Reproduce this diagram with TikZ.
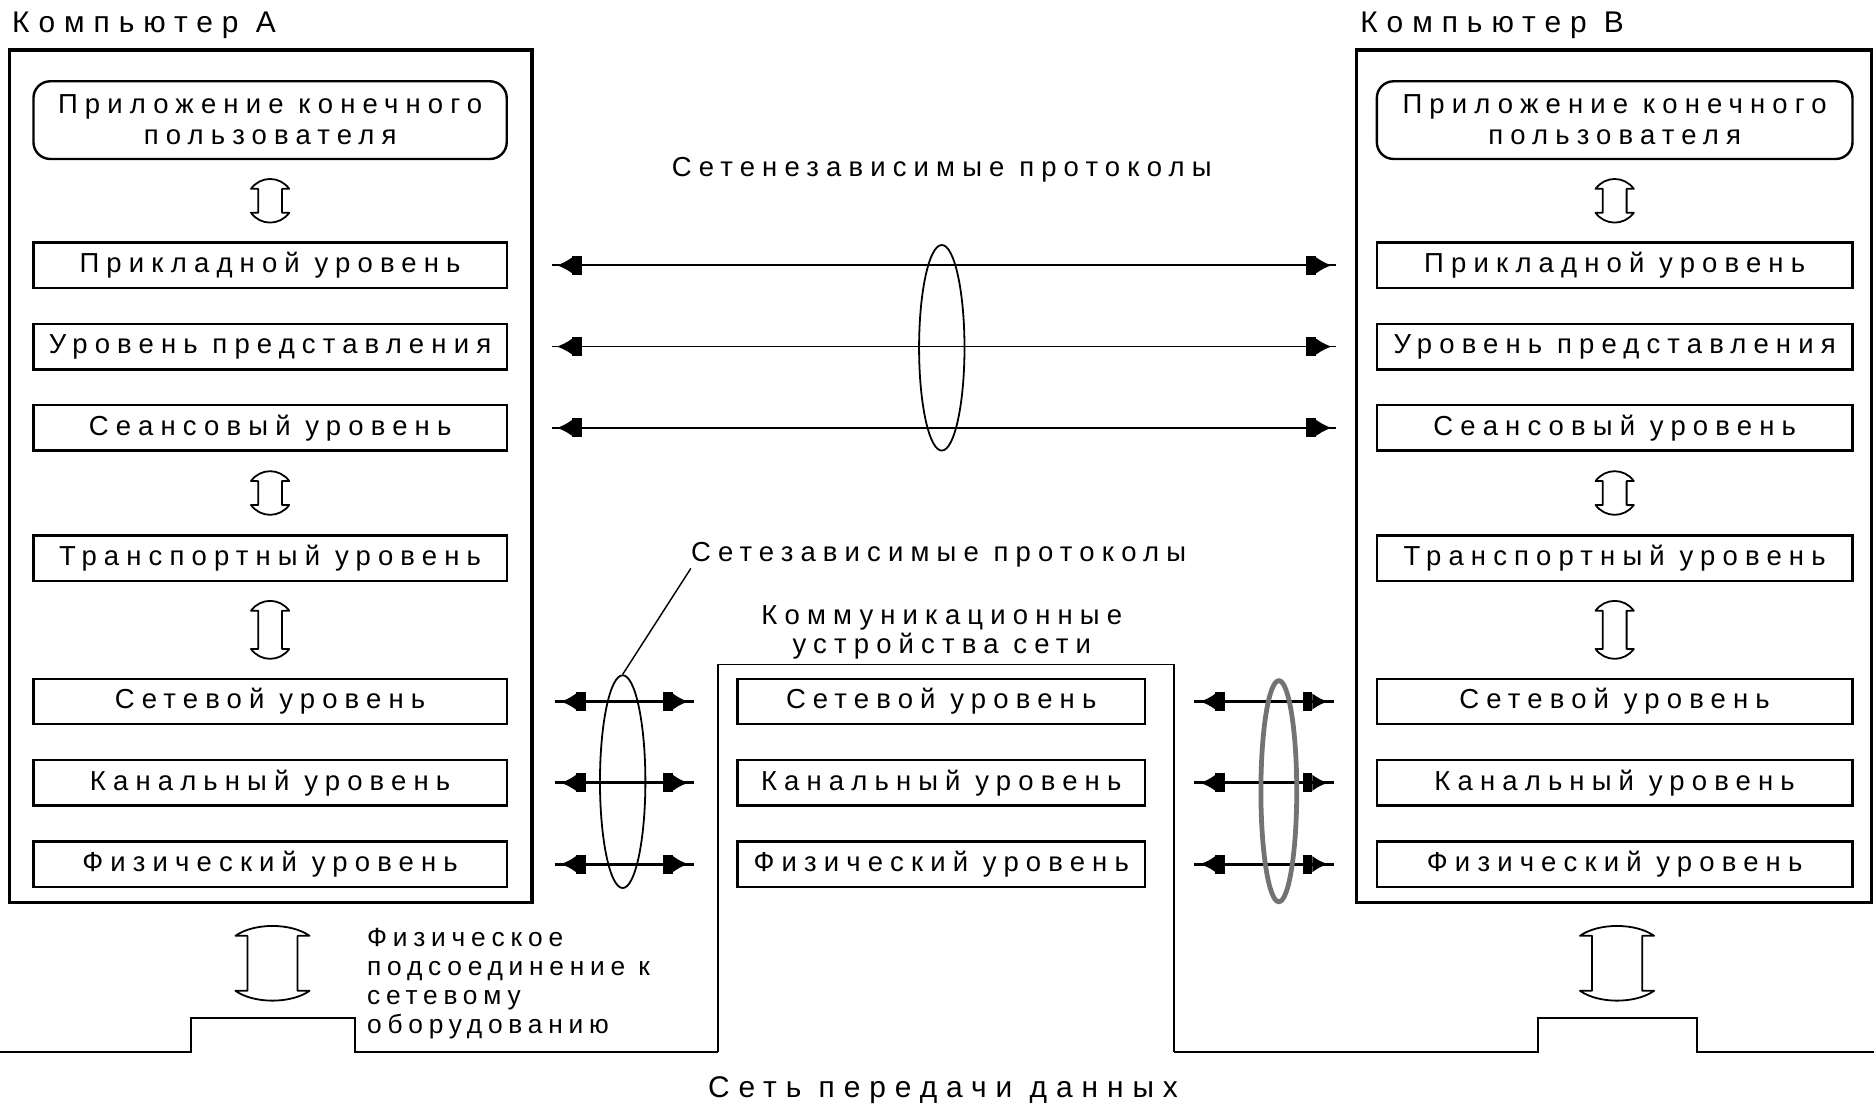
\documentclass[tikz,border=0pt]{standalone}
\usepackage{fontspec}
\setmainfont{Liberation Sans}
\newfontfamily\lblfont[LetterSpace=26]{Liberation Sans}
\newfontfamily\bigfont[LetterSpace=30]{Liberation Sans}
\newfontfamily\phyfont[LetterSpace=22]{Liberation Sans}
\usetikzlibrary{arrows.meta,shapes.geometric,calc}
\tikzset{
  lbl/.style={font={\lblfont\fontsize{23}{26}\selectfont}},
  big/.style={font={\bigfont\fontsize{25}{28}\selectfont}},
  phy/.style={font={\phyfont\fontsize{22}{24.5}\selectfont}},
  txt/.style={inner sep=0pt, lbl},
  layer/.style={draw, line width=2pt, minimum height=38pt, inner sep=0pt, lbl},
  colA/.style={minimum width=396pt},
  colB/.style={minimum width=398pt},
  colM/.style={minimum width=341pt},
  comp/.style={draw, line width=3pt, minimum height=713pt, inner sep=0pt},
  hd/.style={arrows={Latex[length=13pt,width=14pt] Rectangle[length=8pt,width=16pt]-Rectangle[length=8pt,width=16pt] Latex[length=13pt,width=14pt]}},
  ring/.style={draw, ellipse, inner sep=0pt, line width=1.5pt},
  pics/vda/.style n args={3}{code={
    \draw[line width=1.5pt, line join=round]
      ({-#2},{-#1+9}) -- ({-#3},{-#1+9})
      .. controls ({-0.5*#3},{-#1-2}) and ({0.5*#3},{-#1-2}) .. ({#3},{-#1+9})
      -- ({#2},{-#1+9}) -- ({#2},{#1-9}) -- ({#3},{#1-9})
      .. controls ({0.5*#3},{#1+2}) and ({-0.5*#3},{#1+2}) .. ({-#3},{#1-9})
      -- ({-#2},{#1-9}) -- cycle;
  }}
}
\begin{document}
\begin{tikzpicture}[x=1pt,y=-1pt]
\useasboundingbox (0,0) rectangle (1568,929);
\fill[white] (0,0) rectangle (1568,929);

% computers
\node[comp, minimum width=437pt] (boxA) at (226.5,398.5) {};
\node[comp, minimum width=431pt] (boxB) at (1350.5,398.5) {};
\node[txt, big, anchor=west] (compA) at (10,21) {Компьютер А};
\node[txt, big, anchor=west] (compB) at (1138,21) {Компьютер В};

% layers A
\node[layer, colA, rounded corners=14pt, minimum height=65pt, align=center] (appA) at (226,100.5) {Приложение конечного\\пользователя};
\node[layer, colA] (prA) at (226,222) {Прикладной уровень};
\node[layer, colA] (predA) at (226,290) {Уровень представления};
\node[layer, colA] (seanA) at (226,358) {Сеансовый уровень};
\node[layer, colA] (trA) at (226,467) {Транспортный уровень};
\node[layer, colA] (setA) at (226,587) {Сетевой уровень};
\node[layer, colA] (kanA) at (226,655) {Канальный уровень};
\node[layer, colA] (fizA) at (226,723) {Физический уровень};

% layers B
\node[layer, colB, rounded corners=14pt, minimum height=65pt, align=center] (appB) at (1351,100.5) {Приложение конечного\\пользователя};
\node[layer, colB] (prB) at (1351,222) {Прикладной уровень};
\node[layer, colB] (predB) at (1351,290) {Уровень представления};
\node[layer, colB] (seanB) at (1351,358) {Сеансовый уровень};
\node[layer, colB] (trB) at (1351,467) {Транспортный уровень};
\node[layer, colB] (setB) at (1351,587) {Сетевой уровень};
\node[layer, colB] (kanB) at (1351,655) {Канальный уровень};
\node[layer, colB] (fizB) at (1351,723) {Физический уровень};

% network line and communication device box
\draw[line width=2pt, line join=miter] (0,880) -- (160,880) -- (160,852) -- (297,852) -- (297,880) -- (601,880);
\draw[line width=1.5pt, line join=miter] (601,880) -- (601,556) -- (982,556) -- (982,880);
\draw[line width=2pt, line join=miter] (982,880) -- (1287,880) -- (1287,852) -- (1420,852) -- (1420,880) -- (1568,880);

% middle layers
\node[layer, colM] (setM) at (787.5,587) {Сетевой уровень};
\node[layer, colM] (kanM) at (787.5,655) {Канальный уровень};
\node[layer, colM] (fizM) at (787.5,723) {Физический уровень};
\node[txt, align=center, font={\lblfont\fontsize{23}{24}\selectfont}] (comm) at (788,529) {Коммуникационные\\устройства сети};

% vertical hollow arrows
\pic at ($(appA.south)!0.5!(prA.north)$) {vda={19}{10}{16}};
\pic at ($(seanA.south)!0.5!(trA.north)$) {vda={19}{10}{16}};
\pic at ($(trA.south)!0.5!(setA.north)$) {vda={25}{10}{16}};
\pic at (228,806) {vda={32}{21}{31}};
\pic at ($(appB.south)!0.5!(prB.north)$) {vda={19}{10}{16}};
\pic at ($(seanB.south)!0.5!(trB.north)$) {vda={19}{10}{16}};
\pic at ($(trB.south)!0.5!(setB.north)$) {vda={25}{10}{16}};
\pic at (1353,806) {vda={32}{21}{31}};

% long arrows (network-independent)
\foreach \a/\b in {prA/prB, predA/predB, seanA/seanB} {
  \draw[line width=1.5pt, shorten <=37pt, shorten >=33pt] (\a.east) -- (\b.west);
  \draw[line width=1.5pt, hd, shorten <=41pt, shorten >=37pt] (\a.east) -- (\b.west);
}
\node[ring, minimum width=38pt, minimum height=172pt] (ringC) at (788,291) {};
\node[txt] (indep) at (788,142) {Сетенезависимые протоколы};

% short arrows (network-dependent)
\foreach \a/\b in {setA/setM, kanA/kanM, fizA/fizM} {
  \draw[line width=2.5pt, shorten <=39pt, shorten >=35pt] (\a.east) -- (\b.west);
  \draw[line width=2.5pt, hd, shorten <=44pt, shorten >=40pt] (\a.east) -- (\b.west);
}
\foreach \a/\b in {setM/setB, kanM/kanB, fizM/fizB} {
  \draw[line width=2.5pt, shorten <=40pt, shorten >=35pt] (\a.east) -- (\b.west);
  \draw[line width=2.5pt, hd, shorten <=45pt, shorten >=40pt] (\a.east) -- (\b.west);
}
\node[ring, minimum width=38pt, minimum height=178pt] (ringL) at (521,654) {};
\node[ring, draw=black!55, line width=4pt, minimum width=30pt, minimum height=185pt] (ringR) at (1070,662) {};
\node[txt, anchor=west] (dep) at (578,464) {Сетезависимые протоколы};
\draw[line width=1.2pt] ([yshift=-1pt]dep.south west) -- (ringL.north);

% captions
\node[txt, phy, anchor=west, align=left] (phys) at (307,823) {Физическое\\подсоединение к\\сетевому\\оборудованию};
\node[txt, big] (net) at (789,912) {Сеть передачи данных};
\end{tikzpicture}
\end{document}
